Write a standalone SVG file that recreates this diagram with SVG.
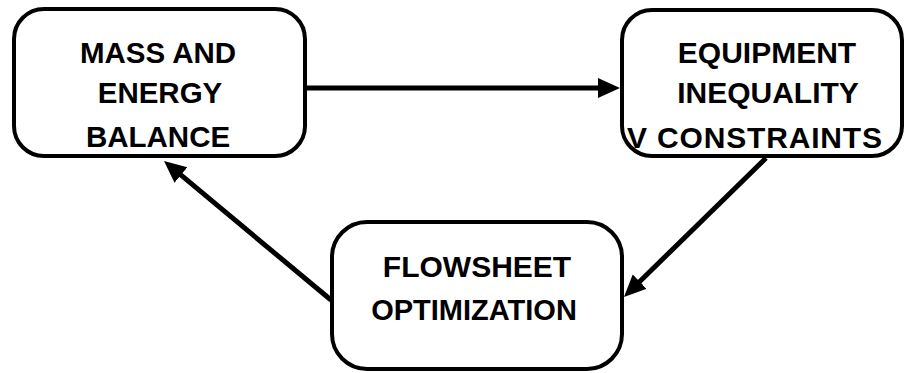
<svg xmlns="http://www.w3.org/2000/svg" width="905" height="373" viewBox="0 0 905 373">
  <style>
    .box { fill: #ffffff; stroke: #000000; stroke-width: 4; }
    .lbl { font-family: "Liberation Sans", Arial, sans-serif; font-weight: bold; font-size: 30px; fill: #000000; text-anchor: middle; }
    .conn { fill: none; stroke: #000000; stroke-width: 5; }
  </style>
  <defs>
    <marker id="arrow" markerUnits="userSpaceOnUse" markerWidth="24" markerHeight="22" refX="6" refY="10" orient="auto">
      <path d="M0,0 L22,10 L0,20 z" fill="#000000"/>
    </marker>
  </defs>
  <rect width="905" height="373" fill="#ffffff"/>
  <g id="connectors">
    <line class="conn" x1="307" y1="88" x2="604" y2="88" marker-end="url(#arrow)"/>
    <line class="conn" x1="766" y1="158" x2="635.4" y2="285.8" marker-end="url(#arrow)"/>
    <line class="conn" x1="331" y1="300" x2="176.3" y2="171.2" marker-end="url(#arrow)"/>
  </g>
  <g id="mass-energy-balance">
    <rect class="box" x="14" y="9" width="291" height="147" rx="30" ry="30"/>
    <text class="lbl" style="font-size:29.5px" x="158" y="63">MASS AND</text>
    <text class="lbl" style="font-size:29.5px" x="160" y="103">ENERGY</text>
    <text class="lbl" style="font-size:29.5px" x="158" y="147">BALANCE</text>
  </g>
  <g id="equipment-inequality-constraints">
    <rect class="box" x="622" y="10" width="280" height="146" rx="30" ry="30"/>
    <text class="lbl" x="767" y="63">EQUIPMENT</text>
    <text class="lbl" x="768" y="103">INEQUALITY</text>
    <text class="lbl" style="text-anchor:start" x="627" y="148">V <tspan x="657" textLength="225">CONSTRAINTS</tspan></text>
  </g>
  <g id="flowsheet-optimization">
    <rect class="box" x="332" y="222" width="290" height="147" rx="35" ry="35"/>
    <text class="lbl" x="477" y="277">FLOWSHEET</text>
    <text class="lbl" style="font-size:29px" x="474" y="320">OPTIMIZATION</text>
  </g>
</svg>
